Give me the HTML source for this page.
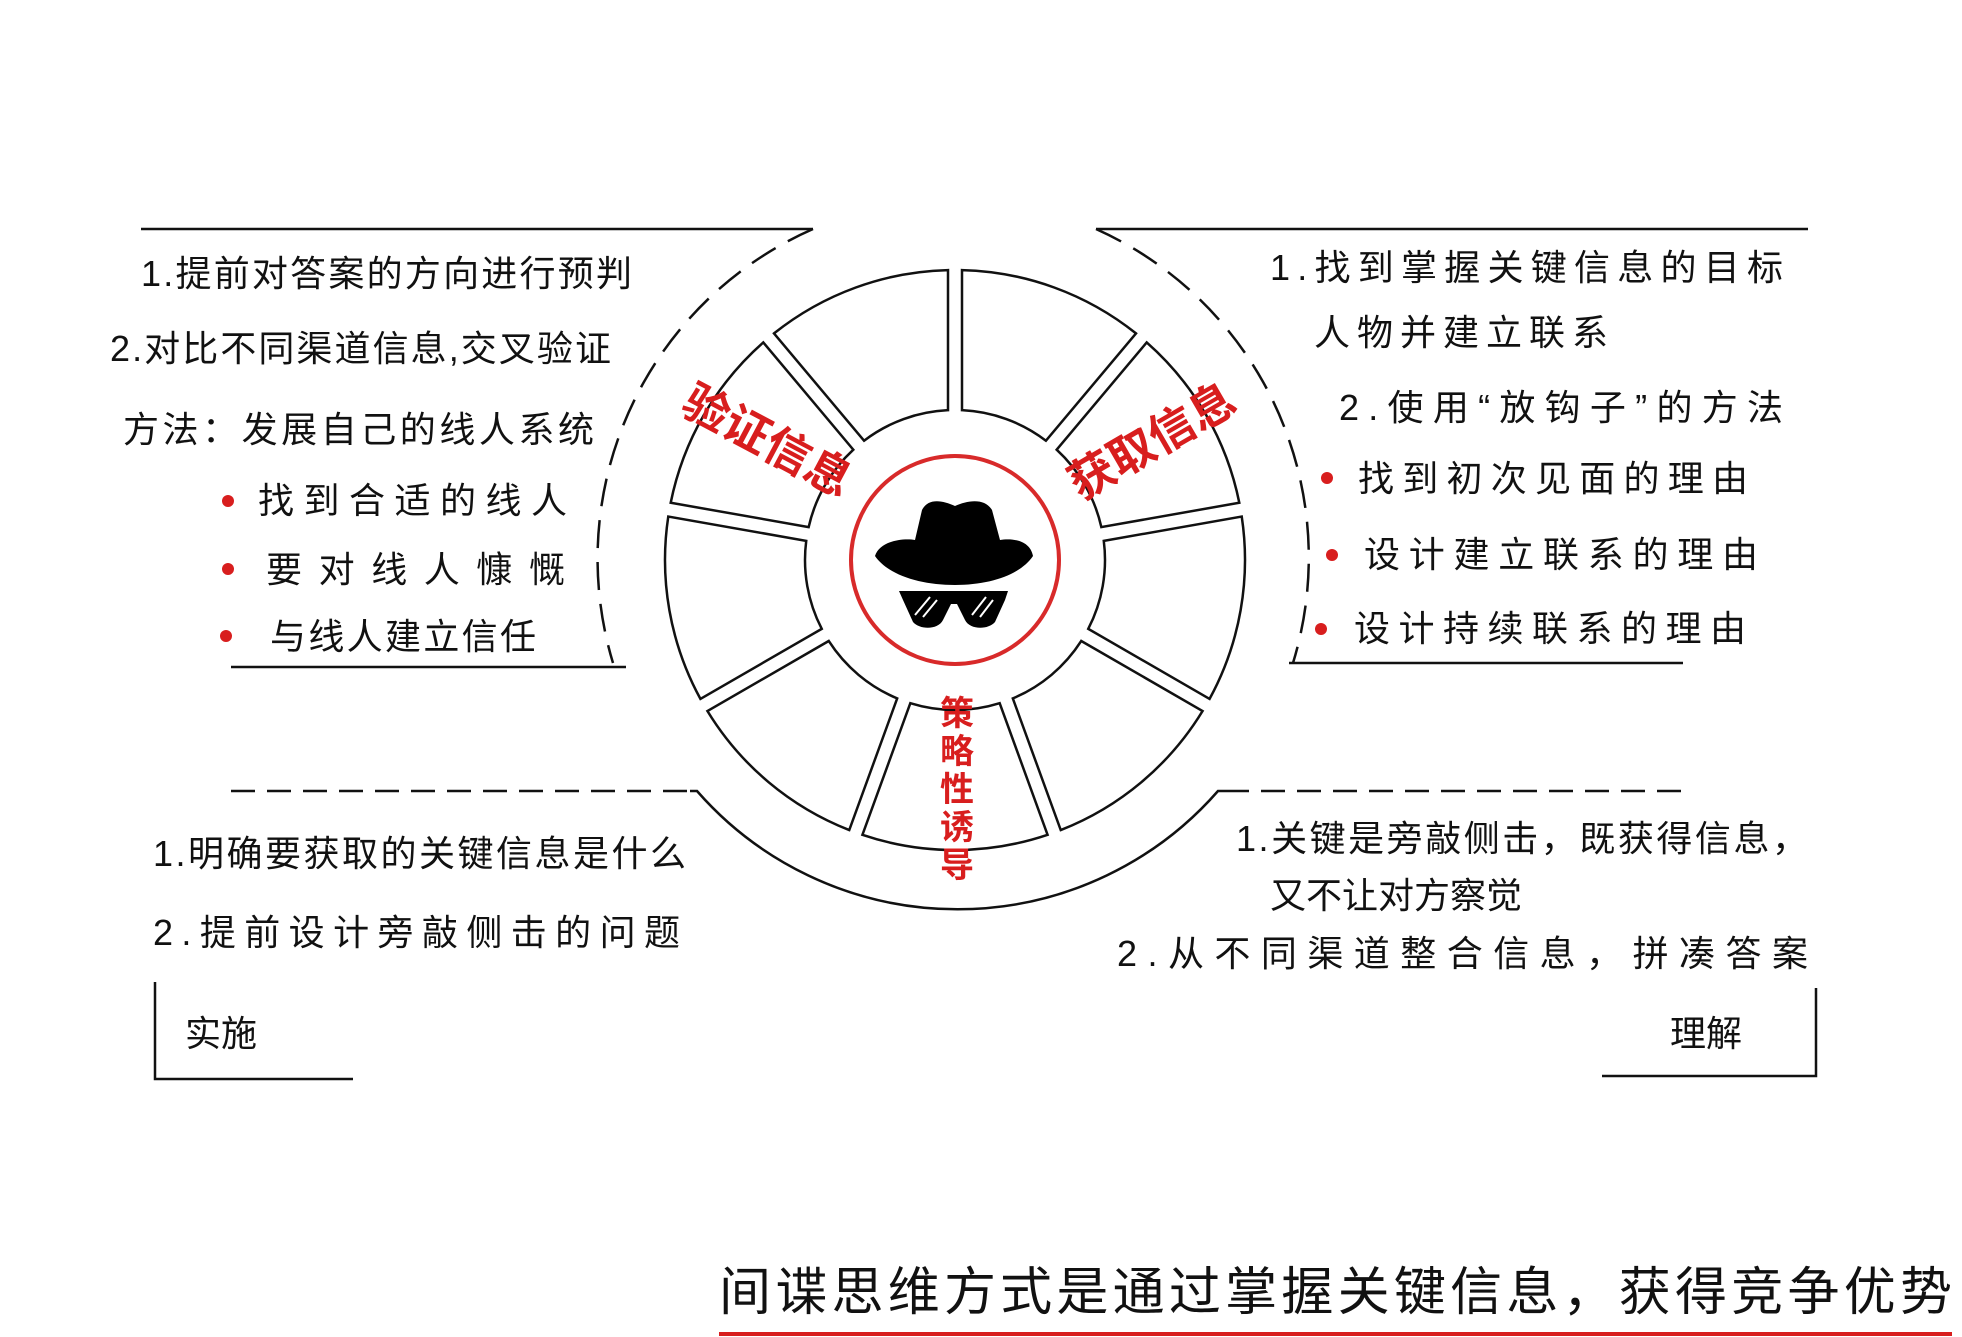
<!DOCTYPE html>
<html><head><meta charset="utf-8"><style>
html,body{margin:0;padding:0;background:#fff;}
svg{display:block;}
text{font-family:"Liberation Sans","Noto Sans CJK SC",sans-serif;fill:#111;}
.t{font-size:36px;}
.r{fill:#d81e1e;font-weight:bold;}
</style></head><body>
<svg id="s" width="1962" height="1337" viewBox="0 0 1962 1337" xmlns="http://www.w3.org/2000/svg">
<rect width="1962" height="1337" fill="#fff"/>
<g id="wheel" fill="#fff" stroke="#111" stroke-width="2.5"></g>
<g fill="none" stroke="#111" stroke-width="2.5">
  <line x1="141" y1="229" x2="813" y2="229"/>
  <line x1="1096" y1="229" x2="1808" y2="229"/>
  <line x1="231" y1="667" x2="626" y2="667"/>
  <line x1="1289" y1="663" x2="1683" y2="663"/>
  <line x1="231" y1="791" x2="690" y2="791" stroke-dasharray="24,12"/>
  <line x1="1225" y1="791" x2="1683" y2="791" stroke-dasharray="24,12"/>
  <path d="M 813 229 A 360 360 0 0 0 613 663" stroke-dasharray="28,14"/>
  <path d="M 1096 229 A 360 360 0 0 1 1293 663" stroke-dasharray="28,14"/>
  <path d="M 690 791 L 697 791 A 346 346 0 0 0 1218 791 L 1225 791"/>
  <polyline points="155,982 155,1079 353,1079"/>
  <polyline points="1816,988 1816,1076 1602,1076"/>
</g>
<circle cx="955" cy="560" r="104" fill="#fff" stroke="#d82a2a" stroke-width="4"/>
<g fill="#000">
  <path d="M875 556 C 880 540 905 538 915 540 L 922 510 C 928 498 942 500 955 506 C 968 500 985 498 992 510 L 1000 540 C 1012 538 1030 540 1033 556 C 1020 575 990 585 955 585 C 920 585 888 575 875 556 Z"/>
  <path d="M899 591 L 1008 591 L 1005 600 L 995 622 C 988 630 970 630 965 620 L 957 604 L 951 604 L 943 620 C 938 630 920 630 913 622 L 903 600 Z"/>
  <line x1="915" y1="615" x2="930" y2="597" stroke="#fff" stroke-width="2"/>
  <line x1="923" y1="617" x2="937" y2="600" stroke="#fff" stroke-width="2"/>
  <line x1="972" y1="615" x2="986" y2="597" stroke="#fff" stroke-width="2"/>
  <line x1="980" y1="617" x2="993" y2="600" stroke="#fff" stroke-width="2"/>
</g>
<text class="r" font-size="46" transform="translate(760,455) rotate(28)" text-anchor="middle">验证信息</text>
<text class="r" font-size="46" transform="translate(1160,455) rotate(-30)" text-anchor="middle">获取信息</text>
<g class="r" font-size="34" text-anchor="middle">
  <text class="r" x="957" y="725">策</text><text class="r" x="957" y="763">略</text><text class="r" x="957" y="801">性</text><text class="r" x="957" y="839">诱</text><text class="r" x="957" y="877">导</text>
</g>
<g class="t">
  <text class="t" x="141" y="286" textLength="491">1.提前对答案的方向进行预判</text>
  <text class="t" x="110" y="361" textLength="501">2.对比不同渠道信息,交叉验证</text>
  <text class="t" x="123" y="442" textLength="471">方法：发展自己的线人系统</text>
  <text class="t" x="258" y="513" textLength="309">找到合适的线人</text>
  <text class="t" x="266" y="582" textLength="299">要对线人慷慨</text>
  <text class="t" x="270" y="649" textLength="266">与线人建立信任</text>
</g>
<g fill="#d81e1e">
  <circle cx="228" cy="501" r="6"/><circle cx="228" cy="569" r="6"/><circle cx="226" cy="636" r="6"/>
  <circle cx="1327" cy="478" r="6"/><circle cx="1332" cy="555" r="6"/><circle cx="1321" cy="629" r="6"/>
</g>
<g>
  <text class="t" x="1270" y="280" textLength="513">1.找到掌握关键信息的目标</text>
  <text class="t" x="1314" y="345" textLength="294">人物并建立联系</text>
  <text class="t" x="1339" y="420" textLength="444">2.使用“放钩子”的方法</text>
  <text class="t" x="1358" y="491" textLength="390">找到初次见面的理由</text>
  <text class="t" x="1364" y="567" textLength="394">设计建立联系的理由</text>
  <text class="t" x="1354" y="641" textLength="392">设计持续联系的理由</text>
</g>
<g>
  <text class="t" x="153" y="866" textLength="533">1.明确要获取的关键信息是什么</text>
  <text class="t" x="153" y="945" textLength="527">2.提前设计旁敲侧击的问题</text>
  <text class="t" x="185" y="1046" font-size="42">实施</text>
</g>
<g>
  <text class="t" x="1236" y="851" textLength="572">1.关键是旁敲侧击，既获得信息，</text>
  <text class="t" x="1270" y="908">又不让对方察觉</text>
  <text class="t" x="1117" y="966" textLength="691">2.从不同渠道整合信息，拼凑答案</text>
  <text class="t" x="1670" y="1046" font-size="42">理解</text>
</g>
<text x="719" y="1310" font-size="52" textLength="1233">间谍思维方式是通过掌握关键信息，获得竞争优势</text>
<line x1="719" y1="1334" x2="1952" y2="1334" stroke="#d81e1e" stroke-width="4"/>
</svg>
<script>
const segmentCenters=[90,130,170,210,250,290,330,10,50];
const cx=955,cy=560,r1=150,r2=290,gap=7;
const g=document.getElementById('wheel');
function pt(r,a){const t=a*Math.PI/180;return [cx+r*Math.cos(t),cy+r*Math.sin(t)];}
segmentCenters.forEach(function(c,i){
  const d1=Math.asin(gap/r1)*180/Math.PI, d2=Math.asin(gap/r2)*180/Math.PI;
  const a1=c-20+d1,b1=c+20-d1,a2=c-20+d2,b2=c+20-d2;
  const p1=pt(r1,a1),p2=pt(r2,a2),p3=pt(r2,b2),p4=pt(r1,b1);
  const p=document.createElementNS('http://www.w3.org/2000/svg','path');
  p.setAttribute('d','M'+p1+' L'+p2+' A'+r2+' '+r2+' 0 0 1 '+p3+' L'+p4+' A'+r1+' '+r1+' 0 0 0 '+p1+'Z');
  
  
  g.appendChild(p);
});
</script>
</body></html>
